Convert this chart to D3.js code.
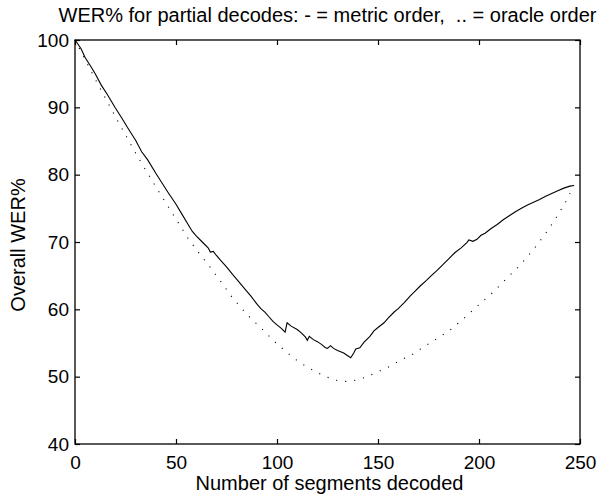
<!DOCTYPE html>
<html>
<head>
<meta charset="utf-8">
<script src="https://cdn.jsdelivr.net/npm/d3@7"></script>
<style>
  body { margin: 0; background: #fff; }
  svg { display: block; }
  text { font-family: "Liberation Sans", Arial, Helvetica, sans-serif; fill: #000; }
</style>
</head>
<body>
<svg id="chart" width="606" height="498"></svg>
<script>
// metric order (solid line)
var metricX = [0, 1, 3, 5, 8, 10, 13, 16, 20, 23, 26, 30, 33, 36, 40, 43, 46, 50, 53, 56, 58, 60, 63, 66, 67, 68.5, 70, 72, 75, 78, 80, 83, 85, 87, 90, 92, 94, 96, 98, 100, 102, 104, 105, 107, 110, 112, 114, 115, 116, 118, 120, 122, 124, 125, 126.5, 128, 130, 133, 135, 136.5, 138, 139, 141, 143, 146, 148, 150, 153, 155, 158, 160, 163, 166, 168, 171, 174, 176, 179, 182, 185, 188, 191, 194, 195, 197, 199, 201, 203, 206, 209, 212, 215, 218, 221, 224, 227, 230, 233, 236, 239, 242, 245, 247];
var metricWER = [100, 99.6, 98.7, 97.4, 96.0, 95.0, 93.3, 91.9, 89.9, 88.5, 87.0, 85.1, 83.4, 82.2, 80.2, 78.8, 77.4, 75.6, 74.1, 72.6, 71.6, 70.9, 70.0, 69.1, 68.5, 68.6, 68.0, 67.3, 66.3, 65.2, 64.5, 63.4, 62.7, 62.0, 60.8, 60.1, 59.6, 58.9, 58.2, 57.7, 57.2, 56.6, 58.0, 57.5, 57.0, 56.5, 55.9, 55.4, 56.0, 55.5, 55.2, 54.8, 54.3, 54.2, 54.6, 54.2, 53.9, 53.5, 53.1, 52.8, 53.5, 54.1, 54.3, 55.1, 56.0, 56.8, 57.3, 58.0, 58.7, 59.6, 60.1, 61.0, 62.0, 62.6, 63.5, 64.3, 64.9, 65.7, 66.6, 67.5, 68.4, 69.1, 69.9, 70.3, 70.1, 70.4, 71.0, 71.3, 72.0, 72.6, 73.3, 73.9, 74.5, 75.0, 75.5, 75.9, 76.3, 76.8, 77.2, 77.6, 78.0, 78.3, 78.4];

// oracle order (dotted line)
var oracleX = [0, 10, 20, 30, 40, 50, 55.6, 60, 66.8, 72, 77.5, 82, 86.6, 93.2, 99.5, 103, 108, 114, 118, 122, 126, 130, 134, 138, 143.6, 149, 155, 161, 167.5, 173, 179, 186.5, 193.4, 200, 206.8, 213.4, 219.8, 225.6, 228.6, 233, 238, 243, 247];
var oracleWER = [100, 94.2, 88.6, 83.2, 78.2, 73.4, 70.7, 68.9, 66.3, 64.2, 61.9, 60.3, 58.8, 56.9, 55.0, 54.1, 52.8, 51.6, 50.9, 50.3, 49.8, 49.4, 49.3, 49.4, 49.9, 50.6, 51.4, 52.4, 53.4, 54.5, 55.6, 57.1, 58.9, 60.7, 62.5, 64.5, 66.4, 68.4, 69.5, 71.3, 73.5, 76.0, 78.4];

var xTicks = [0, 50, 100, 150, 200, 250];
var yTicks = [40, 50, 60, 70, 80, 90, 100];

var titleText = "WER% for partial decodes: - = metric order,  .. = oracle order";
var xLabel = "Number of segments decoded";
var yLabel = "Overall WER%";

var margin = {left: 75, right: 26, top: 40, bottom: 54};
var svg = d3.select("#chart");
var W = +svg.attr("width"), H = +svg.attr("height");

var x = d3.scaleLinear().domain([0, 250]).range([margin.left, W - margin.right]);
var y = d3.scaleLinear().domain([40, 100]).range([H - margin.bottom, margin.top]);

var g = svg.append("g");

// data lines
var metricData = metricX.map(function (d, i) { return [d, metricWER[i]]; });
var oracleData = oracleX.map(function (d, i) { return [d, oracleWER[i]]; });
var line = d3.line().x(function (d) { return x(d[0]); }).y(function (d) { return y(d[1]); });

g.append("path")
  .datum(oracleData)
  .attr("fill", "none")
  .attr("stroke", "#000")
  .attr("stroke-width", 1.1)
  .attr("stroke-dasharray", "1.1,8")
  .attr("d", line);

g.append("path")
  .datum(metricData)
  .attr("fill", "none")
  .attr("stroke", "#000")
  .attr("stroke-width", 1.1)
  .attr("d", line);

// axes, ticks pointing inward on all four sides
var tickFont = "19px";
var labelFont = "20px";
var axBottom = g.append("g")
  .attr("transform", "translate(0," + y(40) + ")")
  .call(d3.axisBottom(x).tickValues(xTicks).tickSizeInner(-5).tickSizeOuter(0).tickPadding(12).tickFormat(d3.format("d")));
var axLeft = g.append("g")
  .attr("transform", "translate(" + x(0) + ",0)")
  .call(d3.axisLeft(y).tickValues(yTicks).tickSizeInner(-5).tickSizeOuter(0).tickPadding(6).tickFormat(d3.format("d")));
var axTop = g.append("g")
  .attr("transform", "translate(0," + y(100) + ")")
  .call(d3.axisTop(x).tickValues(xTicks).tickSizeInner(-5).tickSizeOuter(0).tickFormat(""));
var axRight = g.append("g")
  .attr("transform", "translate(" + x(250) + ",0)")
  .call(d3.axisRight(y).tickValues(yTicks).tickSizeInner(-5).tickSizeOuter(0).tickFormat(""));

[axBottom, axLeft, axTop, axRight].forEach(function (a) {
  a.selectAll(".domain").remove();
  a.selectAll("line").attr("stroke", "#000").attr("stroke-width", 1.2);
  a.selectAll("text").attr("font-size", tickFont).attr("font-family", null).attr("fill", "#000");
});

// box
g.append("rect")
  .attr("x", x(0)).attr("y", y(100))
  .attr("width", x(250) - x(0)).attr("height", y(40) - y(100))
  .attr("fill", "none").attr("stroke", "#000").attr("stroke-width", 1.3);

// titles
svg.append("text")
  .attr("x", (x(0) + x(250)) / 2).attr("y", 22)
  .attr("text-anchor", "middle")
  .attr("font-size", labelFont)
  .style("white-space", "pre")
  .text(titleText);

svg.append("text")
  .attr("x", (x(0) + x(250)) / 2 + 2).attr("y", 490)
  .attr("text-anchor", "middle")
  .attr("font-size", labelFont)
  .text(xLabel);

svg.append("text")
  .attr("transform", "translate(25," + ((y(40) + y(100)) / 2 + 3) + ") rotate(-90)")
  .attr("text-anchor", "middle")
  .attr("font-size", labelFont)
  .text(yLabel);
</script>
</body>
</html>
